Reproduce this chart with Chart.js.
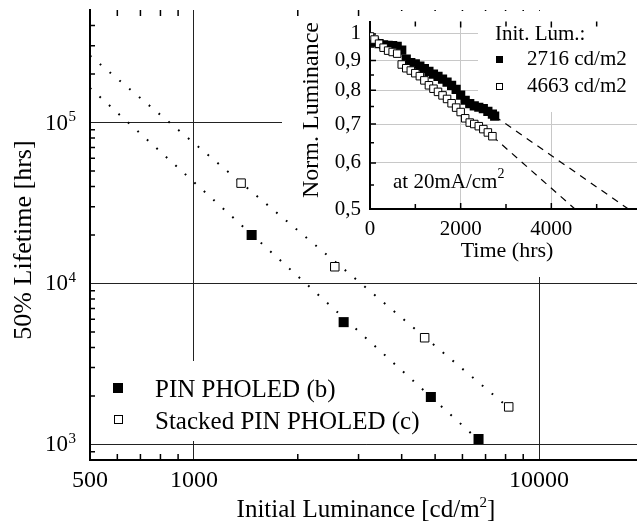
<!DOCTYPE html>
<html>
<head>
<meta charset="utf-8">
<script src="https://cdn.jsdelivr.net/npm/chart.js@4/dist/chart.umd.min.js"></script>
<style>
  html, body { margin: 0; padding: 0; background: #fff; overflow: hidden; }
  #wrap { position: relative; width: 650px; height: 523px; }
  #main { position: absolute; left: 0; top: 0; }
  #inset { position: absolute; left: 282px; top: 0; }
</style>
</head>
<body>
<div id="wrap">
  <canvas id="main" width="650" height="523"></canvas>
  <canvas id="inset" width="368" height="277"></canvas>
</div>
<script>
// main panel: 50% lifetime vs initial luminance
const lumPin = [1470, 2716, 4860, 6680];
const lifePin = [20000, 5750, 1970, 1080];
const lumStacked = [1370, 2560, 4663, 8170];
const lifeStacked = [42000, 12700, 4600, 1710];
// dotted power-law fits
const fitLumPin = [500, 6680];
const fitLifePin = [164000, 1065];
const fitLumStacked = [500, 8170];
const fitLifeStacked = [260000, 1690];

const xLabels = [500, 1000, 10000];
const xMajor = [1000, 10000];
const xMinor = [600, 700, 800, 900, 2000, 3000, 4000, 5000, 6000, 7000, 8000, 9000];
const yMajor = [1000, 10000, 100000];
const yMinor = [900, 2000, 3000, 4000, 5000, 6000, 7000, 8000, 9000,
  20000, 30000, 40000, 50000, 60000, 70000, 80000, 90000, 200000, 300000, 400000];

// inset: normalised luminance at 20 mA/cm2
const hours2716 = [0, 100, 200, 300, 400, 500, 600, 700, 800, 900, 1000, 1100, 1200, 1300, 1400,
  1500, 1600, 1700, 1800, 1900, 2000, 2100, 2200, 2300, 2400, 2500, 2600, 2700, 2750];
const norm2716 = [0.975, 0.968, 0.962, 0.958, 0.956, 0.955, 0.952, 0.938, 0.905, 0.893, 0.888, 0.880,
  0.872, 0.862, 0.853, 0.845, 0.836, 0.826, 0.816, 0.803, 0.785, 0.769, 0.759, 0.752, 0.748, 0.744,
  0.736, 0.728, 0.722];
const hours4663 = [0, 100, 200, 300, 400, 500, 600, 700, 800, 900, 1000, 1100, 1200, 1300, 1400,
  1500, 1600, 1700, 1800, 1900, 2000, 2100, 2200, 2300, 2400, 2500, 2600, 2700];
const norm4663 = [0.99, 0.978, 0.962, 0.947, 0.936, 0.931, 0.925, 0.886, 0.873, 0.865, 0.856, 0.846,
  0.832, 0.816, 0.805, 0.795, 0.784, 0.773, 0.760, 0.747, 0.734, 0.716, 0.704, 0.700, 0.694, 0.686,
  0.677, 0.667];
// dashed extrapolations
const extHours2716 = [2750, 5700];
const extNorm2716 = [0.722, 0.5];
const extHours4663 = [2700, 4520];
const extNorm4663 = [0.667, 0.5];

const insetXLabels = [0, 2000, 4000];
const insetXMajor = [0, 2000, 4000, 6000];
const insetXMinor = [1000, 3000, 5000];
const insetYMajor = [0.5, 0.6, 0.7, 0.8, 0.9, 1];
const insetYLabels = ['0,5', '0,6', '0,7', '0,8', '0,9', '1'];
const insetYMinor = [0.55, 0.65, 0.75, 0.85, 0.95];

const SERIF = '"Liberation Serif", "Times New Roman", serif';
const pts = (xs, ys) => xs.map((x, i) => ({ x, y: ys[i] }));

function strokeTicks(ctx, area, scale, values, len, axis) {
  ctx.save();
  ctx.strokeStyle = '#000';
  ctx.lineWidth = 1.5;
  ctx.beginPath();
  values.forEach((v) => {
    const p = scale.getPixelForValue(v);
    if (axis === 'x') {
      ctx.moveTo(p, area.bottom); ctx.lineTo(p, area.bottom - len);
      ctx.moveTo(p, area.top); ctx.lineTo(p, area.top + len);
    } else {
      ctx.moveTo(area.left, p); ctx.lineTo(area.left + len, p);
    }
  });
  ctx.stroke();
  ctx.restore();
}

function supText(ctx, parts, x, y, align) {
  // parts: [text, supFont or null]
  const big = ctx.font;
  const widths = parts.map(([t, sup]) => {
    ctx.font = sup ? sup : big;
    return ctx.measureText(t).width;
  });
  const total = widths.reduce((a, b) => a + b, 0);
  let cx = align === 'center' ? x - total / 2 : x;
  ctx.textAlign = 'left';
  parts.forEach(([t, sup], i) => {
    ctx.font = sup ? sup : big;
    ctx.fillText(t, cx, sup ? y - 10 : y);
    cx += widths[i];
  });
  ctx.font = big;
}

const mainDecor = {
  id: 'mainDecor',
  beforeDatasetsDraw(chart) {
    const { ctx, chartArea: a, scales } = chart;
    strokeTicks(ctx, a, scales.x, xMinor, 6, 'x');
    strokeTicks(ctx, a, scales.y, yMinor, 5, 'y');
    // grid is cut away behind the inset and the legend
    ctx.save();
    ctx.fillStyle = '#fff';
    ctx.fillRect(282, 16, 368, 261);
    ctx.fillRect(370, 11, 280, 6);
    ctx.fillRect(100, 361, 250, 80);
    ctx.restore();
  },
  afterDraw(chart) {
    const { ctx, scales } = chart;
    ctx.save();
    ctx.fillStyle = '#000';
    ctx.textBaseline = 'middle';
    yMajor.forEach((v) => {
      const py = scales.y.getPixelForValue(v);
      ctx.font = '23px ' + SERIF;
      ctx.textAlign = 'right';
      ctx.fillText('10', 68, py + 1);
      ctx.font = '15px ' + SERIF;
      ctx.textAlign = 'left';
      ctx.fillText(String(Math.round(Math.log10(v))), 68.5, py - 5);
    });
    ctx.textBaseline = 'alphabetic';
    ctx.font = '25px ' + SERIF;
    supText(ctx, [['Initial Luminance [cd/m', null], ['2', '15px ' + SERIF], [']', null]], 366, 517, 'center');
    ctx.save();
    ctx.translate(31, 240);
    ctx.rotate(-Math.PI / 2);
    ctx.textAlign = 'center';
    ctx.font = '26px ' + SERIF;
    ctx.fillText('50% Lifetime [hrs]', 0, 0);
    ctx.restore();
    // legend
    const ds = chart.data.datasets;
    ctx.fillRect(113, 383, 10, 10);
    ctx.fillStyle = '#fff';
    ctx.strokeStyle = '#000';
    ctx.lineWidth = 1;
    ctx.fillRect(114.5, 415.5, 8, 8);
    ctx.strokeRect(114.5, 415.5, 8, 8);
    ctx.fillStyle = '#000';
    ctx.font = '25px ' + SERIF;
    ctx.textAlign = 'left';
    ctx.fillText(ds[0].label, 155, 397);
    ctx.fillText(ds[1].label, 155, 429);
    ctx.restore();
  }
};

new Chart(document.getElementById('main'), {
  type: 'scatter',
  data: {
    datasets: [
      { label: 'PIN PHOLED (b)', data: pts(lumPin, lifePin), pointStyle: 'rect', pointRadius: 7.1,
        backgroundColor: '#000', borderColor: '#000', borderWidth: 0, order: 0 },
      { label: 'Stacked PIN PHOLED (c)', data: pts(lumStacked, lifeStacked), pointStyle: 'rect', pointRadius: 6,
        backgroundColor: '#fff', borderColor: '#000', borderWidth: 1, order: 0 },
      { label: 'fit b', data: pts(fitLumPin, fitLifePin), showLine: true, pointRadius: 0,
        borderColor: '#000', borderWidth: 2, borderDash: [1.8, 11], order: 1 },
      { label: 'fit c', data: pts(fitLumStacked, fitLifeStacked), showLine: true, pointRadius: 0,
        borderColor: '#000', borderWidth: 2, borderDash: [1.8, 11], order: 1 }
    ]
  },
  options: {
    responsive: false,
    animation: false,
    events: [],
    layout: { padding: { top: 10, right: 5, left: 0, bottom: 0 } },
    plugins: { legend: { display: false }, tooltip: { enabled: false } },
    scales: {
      x: {
        type: 'logarithmic', min: 500, max: 20000,
        afterBuildTicks: (s) => { s.ticks = [500, ...xMinor, ...xMajor, 20000].sort((a, b) => a - b).map((v) => ({ value: v })); },
        afterFit: (s) => { s.height = 63; },
        grid: { color: (c) => (c.tick && xMajor.includes(c.tick.value) ? '#222' : 'rgba(0,0,0,0)'), lineWidth: 1, drawTicks: false },
        border: { color: '#000', width: 2 },
        ticks: { autoSkip: false, maxRotation: 0, padding: 6, color: '#000', font: { family: SERIF, size: 24 },
          callback: (v) => (xLabels.includes(v) ? String(v) : '') }
      },
      y: {
        type: 'logarithmic', min: 800, max: 500000,
        afterBuildTicks: (s) => { s.ticks = [800, ...yMinor, ...yMajor, 500000].sort((a, b) => a - b).map((v) => ({ value: v })); },
        afterFit: (s) => { s.width = 90; },
        grid: { color: (c) => (c.tick && yMajor.includes(c.tick.value) ? '#222' : 'rgba(0,0,0,0)'), lineWidth: 1, drawTicks: false },
        border: { color: '#000', width: 2 },
        ticks: { display: false }
      }
    }
  },
  plugins: [mainDecor]
});

const insetDecor = {
  id: 'insetDecor',
  beforeDatasetsDraw(chart) {
    const { ctx, chartArea: a, scales } = chart;
    ctx.save();
    ctx.fillStyle = '#fff';
    ctx.fillRect(196, 11, 172, 101);
    ctx.restore();
    strokeTicks(ctx, a, scales.x, insetXMajor, 6, 'x');
    strokeTicks(ctx, a, scales.x, insetXMinor, 5, 'x');
    strokeTicks(ctx, a, scales.y, insetYMajor, 6, 'y');
    strokeTicks(ctx, a, scales.y, insetYMinor, 4, 'y');
  },
  afterDraw(chart) {
    const { ctx } = chart;
    ctx.save();
    ctx.fillStyle = '#000';
    ctx.textBaseline = 'alphabetic';
    ctx.font = '22px ' + SERIF;
    ctx.textAlign = 'center';
    ctx.fillText('Time (hrs)', 225, 257);
    ctx.save();
    ctx.translate(36, 110);
    ctx.rotate(-Math.PI / 2);
    ctx.textAlign = 'center';
    ctx.font = '24px ' + SERIF;
    ctx.fillText('Norm. Luminance', 0, 0);
    ctx.restore();
    ctx.font = '21px ' + SERIF;
    supText(ctx, [['at 20mA/cm', null], ['2', '14px ' + SERIF]], 111, 188, 'left');
    // inset legend
    const ds = chart.data.datasets;
    ctx.font = '21px ' + SERIF;
    ctx.textAlign = 'left';
    ctx.fillText('Init. Lum.:', 213, 40);
    ctx.fillRect(214, 56, 7, 7);
    ctx.fillStyle = '#fff';
    ctx.strokeStyle = '#000';
    ctx.lineWidth = 1;
    ctx.fillRect(214.5, 83.5, 6, 6);
    ctx.strokeRect(214.5, 83.5, 6, 6);
    ctx.fillStyle = '#000';
    ctx.fillText(ds[1].label, 245, 65);
    ctx.fillText(ds[0].label, 245, 92);
    ctx.restore();
  }
};

new Chart(document.getElementById('inset'), {
  type: 'scatter',
  data: {
    datasets: [
      { label: '4663 cd/m2', data: pts(hours4663, norm4663), pointStyle: 'rect', pointRadius: 5.3,
        backgroundColor: '#fff', borderColor: '#000', borderWidth: 1, order: 0 },
      { label: '2716 cd/m2', data: pts(hours2716, norm2716), pointStyle: 'rect', pointRadius: 6.5,
        backgroundColor: '#000', borderColor: '#000', borderWidth: 0, order: 1 },
      { label: 'ext 2716', data: pts(extHours2716, extNorm2716), showLine: true, pointRadius: 0,
        borderColor: '#000', borderWidth: 1.2, borderDash: [7, 6], order: 2 },
      { label: 'ext 4663', data: pts(extHours4663, extNorm4663), showLine: true, pointRadius: 0,
        borderColor: '#000', borderWidth: 1.2, borderDash: [7, 6], order: 2 }
    ]
  },
  options: {
    responsive: false,
    animation: false,
    events: [],
    layout: { padding: { top: 10, right: 5, left: 0, bottom: 0 } },
    plugins: { legend: { display: false }, tooltip: { enabled: false } },
    scales: {
      x: {
        type: 'linear', min: 0, max: 6000,
        afterBuildTicks: (s) => { s.ticks = [...insetXMajor, ...insetXMinor].sort((a, b) => a - b).map((v) => ({ value: v })); },
        afterFit: (s) => { s.height = 68; },
        grid: { color: (c) => (c.tick && (c.tick.value === 2000 || c.tick.value === 4000) ? '#c8c8c8' : 'rgba(0,0,0,0)'), lineWidth: 1, drawTicks: false },
        border: { color: '#000', width: 2 },
        ticks: { autoSkip: false, maxRotation: 0, padding: 8, color: '#000', font: { family: SERIF, size: 21 },
          callback: (v) => (insetXLabels.includes(v) ? String(v) : '') }
      },
      y: {
        type: 'logarithmic', min: 0.5, max: 1.05,
        afterBuildTicks: (s) => { s.ticks = [...insetYMajor, ...insetYMinor].sort((a, b) => a - b).map((v) => ({ value: v })); },
        afterFit: (s) => { s.width = 88; },
        grid: { color: (c) => (c.tick && c.tick.value > 0.55 && insetYMajor.includes(c.tick.value) ? '#c8c8c8' : 'rgba(0,0,0,0)'), lineWidth: 1, drawTicks: false },
        border: { color: '#000', width: 2 },
        ticks: { autoSkip: false, padding: 9, color: '#000', font: { family: SERIF, size: 21 },
          callback: (v) => { const i = insetYMajor.indexOf(v); return i >= 0 ? insetYLabels[i] : ''; } }
      }
    }
  },
  plugins: [insetDecor]
});
</script>
</body>
</html>
